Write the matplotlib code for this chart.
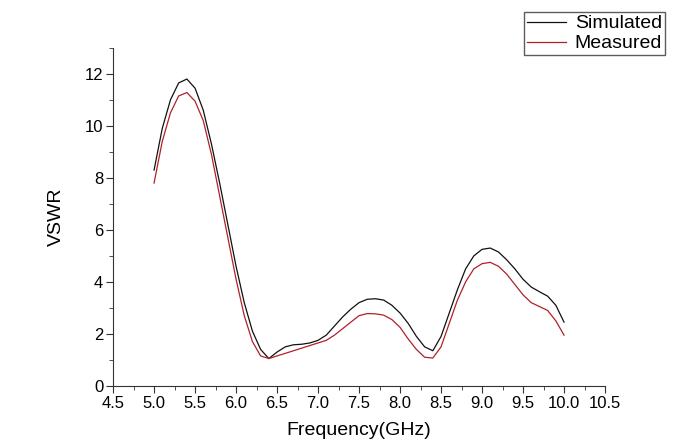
import numpy as np
import matplotlib
matplotlib.use("Agg")
import matplotlib.pyplot as plt
from matplotlib.ticker import MultipleLocator

plt.rcParams['font.family'] = ['Liberation Sans', 'DejaVu Sans']

# frequency points (GHz)
freq = [5.0, 5.1, 5.2, 5.3, 5.4, 5.5, 5.6, 5.7, 5.8, 5.9,
        6.0, 6.1, 6.2, 6.3, 6.4, 6.5, 6.6, 6.7, 6.8, 6.9,
        7.0, 7.1, 7.2, 7.3, 7.4, 7.5, 7.6, 7.7, 7.8, 7.9,
        8.0, 8.1, 8.2, 8.3, 8.4, 8.5, 8.6, 8.7, 8.8, 8.9,
        9.0, 9.1, 9.2, 9.3, 9.4, 9.5, 9.6, 9.7, 9.8, 9.9, 10.0]

simulated = [8.3, 9.9, 11.0, 11.65, 11.8, 11.45, 10.6, 9.3, 7.8, 6.2,
             4.6, 3.2, 2.1, 1.4, 1.05, 1.3, 1.5, 1.58, 1.6, 1.65,
             1.75, 1.95, 2.3, 2.65, 2.95, 3.2, 3.33, 3.35, 3.3, 3.1,
             2.8, 2.4, 1.9, 1.5, 1.35, 1.9, 2.8, 3.7, 4.5, 5.0,
             5.25, 5.3, 5.15, 4.85, 4.5, 4.1, 3.8, 3.62, 3.45, 3.1, 2.45]

measured = [7.8, 9.4, 10.5, 11.15, 11.28, 10.95, 10.2, 8.9, 7.3, 5.7,
            4.1, 2.7, 1.7, 1.15, 1.05, 1.15, 1.25, 1.35, 1.45, 1.55,
            1.65, 1.75, 1.95, 2.2, 2.45, 2.7, 2.78, 2.77, 2.72, 2.55,
            2.25, 1.8, 1.4, 1.1, 1.07, 1.5, 2.4, 3.3, 4.0, 4.5,
            4.7, 4.75, 4.6, 4.3, 3.9, 3.5, 3.2, 3.05, 2.9, 2.5, 1.95]

fig = plt.figure(figsize=(6.73, 4.43), dpi=100)
ax = fig.add_axes([0.168, 0.129, 0.731, 0.763])

l1, = ax.plot(freq, simulated, color='#111111', lw=0.9, label='Simulated')
l2, = ax.plot(freq, measured, color='#b0202a', lw=0.9, label='Measured')

ax.set_xlim(4.5, 10.5)
ax.set_ylim(0, 13)
ax.set_xticks(np.arange(4.5, 10.51, 0.5))
ax.set_xticklabels([f'{v:.1f}' for v in np.arange(4.5, 10.51, 0.5)])
ax.set_yticks([0, 2, 4, 6, 8, 10, 12])
ax.xaxis.set_minor_locator(MultipleLocator(0.25))
ax.yaxis.set_minor_locator(MultipleLocator(1))

ax.spines['top'].set_visible(False)
ax.spines['right'].set_visible(False)
ax.spines['left'].set_color('#333333')
ax.spines['bottom'].set_color('#333333')
ax.tick_params(which='major', direction='out', length=5, labelsize=12,
               color='#333333', pad=2)
ax.tick_params(which='minor', direction='out', length=3, color='#333333')

ax.set_xlabel('Frequency(GHz)', fontsize=14, labelpad=8)
ax.set_ylabel('VSWR', fontsize=14, labelpad=14)

leg = fig.legend(handles=[l1, l2], loc='upper right', bbox_to_anchor=(0.988, 0.973),
                 fontsize=14, frameon=True, fancybox=False, handlelength=2.0,
                 borderpad=0.15, labelspacing=0.12, handletextpad=0.45,
                 borderaxespad=0)
leg.get_frame().set_edgecolor('#333333')
leg.get_frame().set_linewidth(1.0)

fig.savefig('out.png', dpi=100)
